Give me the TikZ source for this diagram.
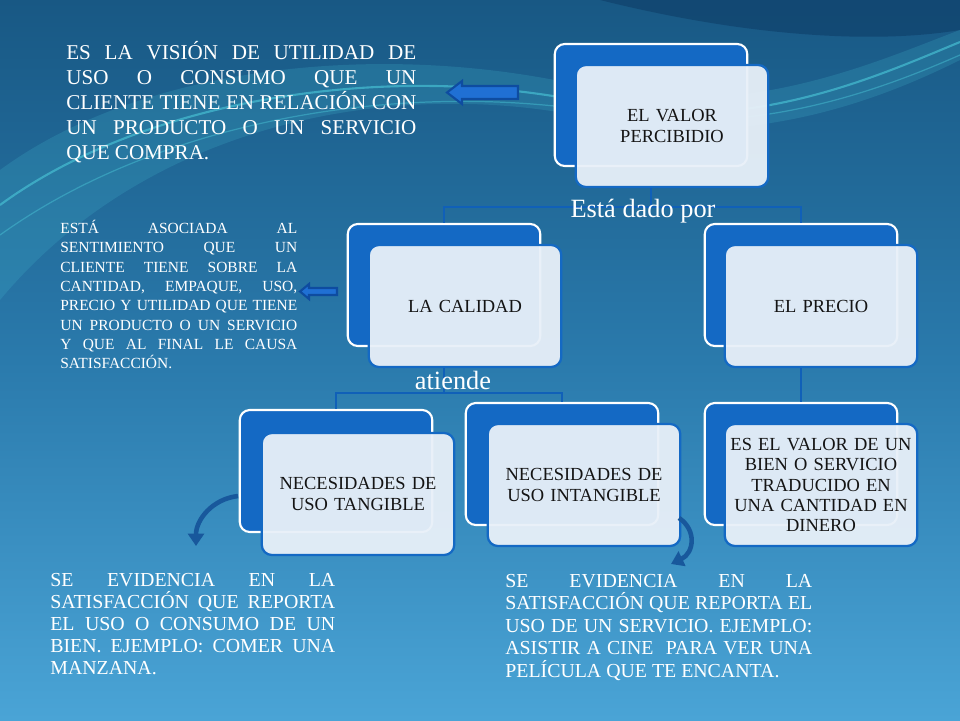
\documentclass[tikz,border=0pt]{standalone}
\usepackage{fontspec}
\setmainfont{Liberation Serif}
\usetikzlibrary{arrows.meta}

\definecolor{bgtop}{RGB}{24,88,132}
\definecolor{bgmid}{RGB}{42,122,172}
\definecolor{bgbottom}{RGB}{74,164,214}
\definecolor{wavedark}{RGB}{16,66,108}
\definecolor{wavelight}{RGB}{70,190,210}
\definecolor{boxdark}{RGB}{20,105,196}
\definecolor{boxlight}{RGB}{232,240,248}
\definecolor{linkblue}{RGB}{16,96,184}
\definecolor{arrowfill}{RGB}{32,112,212}
\definecolor{arrowdraw}{RGB}{14,76,160}
\definecolor{curveblue}{RGB}{24,88,156}
\definecolor{boxtext}{RGB}{20,20,20}

\begin{document}
\begin{tikzpicture}[x=0.02cm,y=-0.02cm,
    backbox/.style={draw=white,line width=1.2pt,fill=boxdark,rounded corners=0.2cm,
      minimum width=3.85cm,minimum height=2.44cm},
    frontbox/.style={draw=boxdark,line width=1.3pt,fill=boxlight,fill opacity=0.95,text opacity=1,
      rounded corners=0.2cm,minimum width=3.85cm,minimum height=2.44cm,inner xsep=1pt,
      text width=3.7cm,align=center,text=boxtext,font=\fontsize{10.5}{11.6}\selectfont},
    link/.style={draw=linkblue,line width=1.3pt},
    linklabel/.style={text=white,inner sep=0pt,font=\fontsize{15}{16}\selectfont},
    note/.style={text=white,inner sep=0pt,anchor=north west,align=justify,text width=#1},
    blockarrow/.style={fill=arrowfill,draw=arrowdraw,line width=1.2pt,line join=miter},
    curvearrow/.style={draw=curveblue,line width=2.6pt,-{Triangle[width=9pt,length=7pt]}}]
  \useasboundingbox (0,0) rectangle (960,720);
  % background and waves
  \fill[top color=bgtop,bottom color=bgbottom,middle color=bgmid] (0,0) rectangle (960,720);
  \fill[wavedark,opacity=0.7] (600,0) .. controls (740,35) and (870,45) .. (960,30) -- (960,0) -- cycle;
  \fill[wavelight,opacity=0.2] (0,170) .. controls (150,60) and (400,40) .. (600,90)
    .. controls (750,120) and (880,60) .. (960,30) -- (960,60)
    .. controls (880,100) and (750,150) .. (600,120) .. controls (400,75) and (150,120) .. (0,300) -- cycle;
  \draw[wavelight,line width=1.2pt,opacity=0.7] (0,205) .. controls (150,95) and (400,60) .. (600,105)
    .. controls (750,135) and (880,75) .. (960,42);
  \draw[wavelight,line width=0.7pt,opacity=0.5] (0,235) .. controls (160,120) and (400,80) .. (600,112)
    .. controls (750,140) and (880,90) .. (960,55);

  % boxes
  \node[backbox] (valorB) at (651,105) {};
  \node[frontbox] (valor) at (672,126) {EL VALOR\\PERCIBIDIO};
  \node[backbox] (calidadB) at (444,285) {};
  \node[frontbox] (calidad) at (465,306) {LA CALIDAD};
  \node[backbox] (precioB) at (801,285) {};
  \node[frontbox] (precio) at (821,306) {EL PRECIO};
  \node[backbox] (tangibleB) at (336,471) {};
  \node[frontbox] (tangible) at (358,494) {NECESIDADES DE\\USO TANGIBLE};
  \node[backbox] (intangibleB) at (562,464) {};
  \node[frontbox] (intangible) at (584,485) {NECESIDADES DE\\USO INTANGIBLE};
  \node[backbox] (dineroB) at (801,464) {};
  \node[frontbox] (dinero) at (821,485) {ES EL VALOR DE UN\\BIEN O SERVICIO\\TRADUCIDO EN\\UNA CANTIDAD EN\\DINERO};

  % connectors
  \draw[link] (valorB |- valor.south) -- ++(0,19) -| (calidadB.north);
  \draw[link] (valorB |- valor.south) -- ++(0,19) -| (precioB.north);
  \draw[link] (calidadB |- calidad.south) -- ++(0,25) -| (tangibleB.north);
  \draw[link] (calidadB |- calidad.south) -- ++(0,25) -| (intangibleB.north);
  \draw[link] (precioB |- precio.south) -- (dineroB.north);
  \node[linklabel] (dado) at (643,211) {Está dado por};
  \node[linklabel] (atiende) at (453,380) {atiende};

  % notes
  \node[note=7cm,font=\fontsize{12}{14.2}\selectfont] (vision) at (66,41) {%
    ES LA VISIÓN DE UTILIDAD DE\linebreak
    USO O CONSUMO QUE UN\linebreak
    CLIENTE TIENE EN RELACIÓN CON\linebreak
    UN PRODUCTO O UN SERVICIO\linebreak
    QUE COMPRA.};
  \node[note=4.74cm,font=\fontsize{8.8}{11}\selectfont] (sentimiento) at (60,220) {%
    ESTÁ ASOCIADA AL\linebreak
    SENTIMIENTO QUE UN\linebreak
    CLIENTE TIENE SOBRE LA\linebreak
    CANTIDAD, EMPAQUE, USO,\linebreak
    PRECIO Y UTILIDAD QUE TIENE\linebreak
    UN PRODUCTO O UN SERVICIO\linebreak
    Y QUE AL FINAL LE CAUSA\linebreak
    SATISFACCIÓN.};
  \node[note=5.7cm,font=\fontsize{11.3}{12.5}\selectfont] (bien) at (50,573) {%
    SE EVIDENCIA EN LA\linebreak
    SATISFACCIÓN QUE REPORTA\linebreak
    EL USO O CONSUMO DE UN\linebreak
    BIEN. EJEMPLO: COMER UNA\linebreak
    MANZANA.};
  \node[note=6.14cm,font=\fontsize{11.3}{12.8}\selectfont] (servicio) at (505,574) {%
    SE EVIDENCIA EN LA\linebreak
    SATISFACCIÓN QUE REPORTA EL\linebreak
    USO DE UN SERVICIO. EJEMPLO:\linebreak
    ASISTIR A CINE \ PARA VER UNA\linebreak
    PELÍCULA QUE TE ENCANTA.};

  % pointers
  \draw[blockarrow] (518,86) -- (462,86) -- (462,81) -- (447,92.5) -- (462,104) -- (462,99) -- (518,99) -- cycle;
  \draw[blockarrow] (337,288) -- (309,288) -- (309,284) -- (300,291.5) -- (309,299) -- (309,295) -- (337,295) -- cycle;
  \draw[curvearrow] (238,496) .. controls (212,499) and (196,520) .. (196,546);
  \draw[curvearrow] (679,518) .. controls (697,530) and (694,553) .. (671,564);
\end{tikzpicture}
\end{document}
